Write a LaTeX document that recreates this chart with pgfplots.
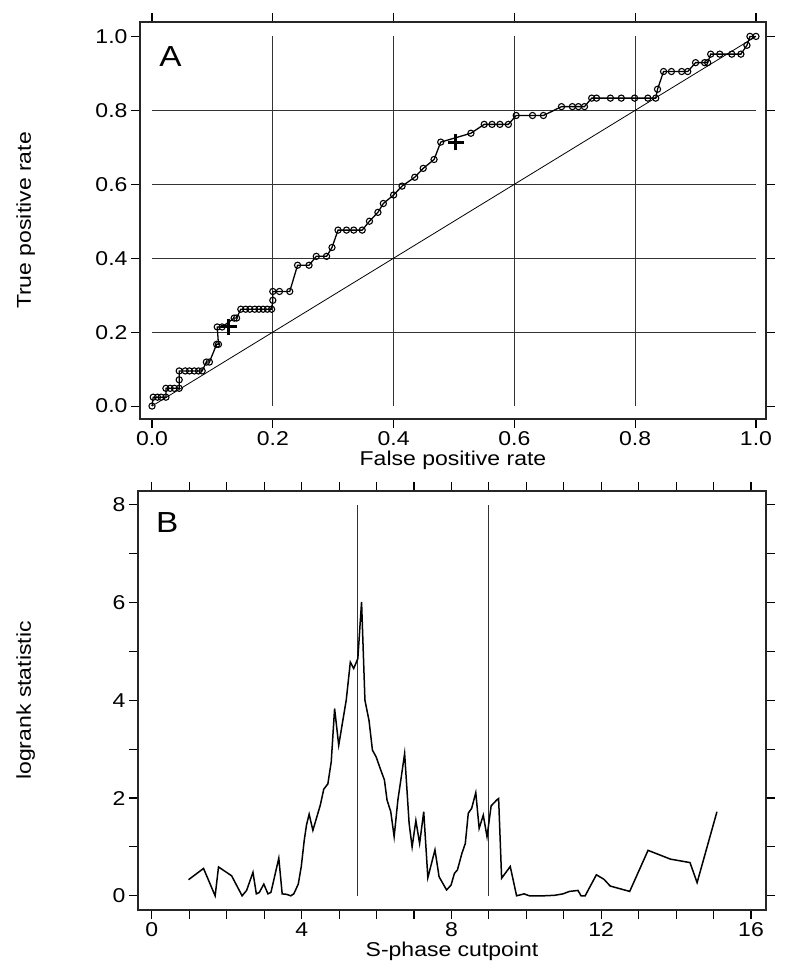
\documentclass[border=0pt]{standalone}
\usepackage{fontspec}
\setmainfont{Liberation Sans}[FakeStretch=1.15]
\usepackage{pgfplots}
\pgfplotsset{compat=1.18}
\pgfplotsset{
  panel/.style={
    scale only axis,
    axis line style={line width=1.2pt, black!85},
    tick align=outside,
    major tick length=9pt,
    tick style={line width=1.1pt, black},
    /pgf/number format/assume math mode=true,
    tick label style={font=\fontsize{20}{24}\selectfont},
    label style={font=\fontsize{20}{24}\selectfont},
    clip=false,
  },
  gridline/.style={line width=0.9pt, black!80, forget plot},
}
\begin{document}
\begin{tikzpicture}
\useasboundingbox (0,0) rectangle (793pt,966pt);
% ---------------- Panel A ----------------
\begin{axis}[panel,
  at={(140pt,547pt)}, anchor=south west,
  width=626pt, height=397pt,
  xmin=-0.0199, xmax=1.0166, ymin=-0.035, ymax=1.039,
  xtick={0,0.2,0.4,0.6,0.8,1.0}, xticklabels={0.0,0.2,0.4,0.6,0.8,1.0},
  ytick={0,0.2,0.4,0.6,0.8,1.0}, yticklabels={0.0,0.2,0.4,0.6,0.8,1.0},
  xlabel={False positive rate}, ylabel={True positive rate},
  xlabel style={at={(axis description cs:0.5,-0.103)}, anchor=center},
  ylabel style={at={(axis description cs:-0.1826,0.5)}, anchor=center, rotate=0},
]
\addplot[gridline] coordinates {(0,0.2) (1,0.2)};
\addplot[gridline] coordinates {(0,0.4) (1,0.4)};
\addplot[gridline] coordinates {(0,0.6) (1,0.6)};
\addplot[gridline] coordinates {(0,0.8) (1,0.8)};
\addplot[gridline] coordinates {(0.2,0) (0.2,1)};
\addplot[gridline] coordinates {(0.4,0) (0.4,1)};
\addplot[gridline] coordinates {(0.6,0) (0.6,1)};
\addplot[gridline] coordinates {(0.8,0) (0.8,1)};
\addplot[line width=0.8pt, black, forget plot] coordinates {(0,0) (1,1)};
\addplot[line width=1.3pt, black, mark=o, mark size=3.1pt,
  mark options={line width=1.1pt, fill=white}] coordinates {
(0.0,0.0) (0.002,0.024) (0.009,0.024) (0.015,0.024) (0.023,0.024)
(0.023,0.048) (0.030,0.048) (0.037,0.048) (0.045,0.048)
(0.045,0.071) (0.045,0.095) (0.055,0.095) (0.062,0.095) (0.070,0.095)
(0.077,0.095) (0.083,0.095) (0.090,0.119) (0.095,0.119)
(0.107,0.167) (0.110,0.167) (0.108,0.214) (0.116,0.214)
(0.136,0.238) (0.140,0.238)
(0.147,0.262) (0.155,0.262) (0.162,0.262) (0.170,0.262) (0.177,0.262)
(0.184,0.262) (0.191,0.262) (0.198,0.262)
(0.200,0.286) (0.200,0.310) (0.211,0.310) (0.228,0.310)
(0.241,0.381) (0.260,0.381) (0.272,0.405) (0.289,0.405) (0.298,0.429)
(0.308,0.476) (0.322,0.476) (0.334,0.476) (0.348,0.476)
(0.360,0.500) (0.374,0.524) (0.383,0.548) (0.400,0.571) (0.414,0.595)
(0.435,0.619) (0.449,0.643) (0.467,0.667) (0.478,0.714) (0.528,0.738)
(0.550,0.762) (0.563,0.762) (0.576,0.762) (0.590,0.762)
(0.603,0.786) (0.630,0.786) (0.648,0.786)
(0.678,0.810) (0.696,0.810) (0.706,0.810) (0.716,0.810)
(0.728,0.833) (0.736,0.833) (0.759,0.833) (0.777,0.833) (0.799,0.833)
(0.821,0.833) (0.834,0.833) (0.837,0.857)
(0.847,0.905) (0.860,0.905) (0.877,0.905) (0.887,0.905)
(0.900,0.929) (0.915,0.929) (0.920,0.929)
(0.925,0.952) (0.940,0.952) (0.960,0.952) (0.975,0.952)
(0.985,0.976) (0.990,1.000) (1.000,1.000)
};
\addplot[only marks, mark=+, mark size=8pt, mark options={line width=3pt, black}]
  coordinates {(0.127,0.214) (0.503,0.714)};
\node[anchor=north west, inner sep=0pt, font=\fontsize{29}{30}\selectfont]
  at (axis cs:0.012,0.972) {A};
\end{axis}
% ---------------- Panel B ----------------
\begin{axis}[panel,
  at={(138pt,56pt)}, anchor=south west,
  width=628pt, height=419pt,
  xmin=-0.37, xmax=16.4, ymin=-0.29, ymax=8.28,
  xtick={0,1,...,16}, xticklabels={0,,,,4,,,,8,,,,12,,,,16},
  ytick={0,1,...,8}, yticklabels={0,,2,,4,,6,,8},
  xlabel={S-phase cutpoint}, ylabel={logrank statistic},
  xlabel style={at={(axis description cs:0.5,-0.098)}, anchor=center},
  ylabel style={at={(axis description cs:-0.179,0.5)}, anchor=center, rotate=0},
]
\addplot[gridline] coordinates {(5.5,0) (5.5,8)};
\addplot[gridline] coordinates {(9.0,0) (9.0,8)};
\addplot[line width=1.5pt, black] coordinates {
(0.98,0.33) (1.38,0.56) (1.69,0.00) (1.78,0.59) (2.13,0.41) (2.41,0.00)
(2.53,0.11) (2.70,0.48) (2.79,0.04) (2.87,0.07) (2.99,0.24) (3.10,0.04)
(3.18,0.07) (3.39,0.77) (3.48,0.04) (3.60,0.03) (3.71,0.00) (3.79,0.04)
(3.91,0.24) (3.99,0.60) (4.07,1.14) (4.13,1.45) (4.20,1.67) (4.30,1.34)
(4.50,1.86) (4.59,2.18) (4.70,2.29) (4.79,2.74) (4.88,3.83) (4.99,3.08)
(5.19,4.00) (5.30,4.78) (5.39,4.65) (5.50,4.85) (5.60,6.01) (5.69,4.00)
(5.80,3.58) (5.89,2.98) (5.99,2.84) (6.10,2.60) (6.21,2.37) (6.28,1.96)
(6.38,1.72) (6.47,1.21) (6.57,1.96) (6.66,2.43) (6.75,2.91) (6.87,1.48)
(6.95,1.00) (7.05,1.54) (7.15,1.07) (7.26,1.72) (7.37,0.37) (7.56,0.94)
(7.67,0.39) (7.87,0.12) (7.99,0.22) (8.08,0.46) (8.16,0.53) (8.28,0.87)
(8.37,1.07) (8.45,1.69) (8.54,1.79) (8.65,2.11) (8.74,1.38) (8.85,1.65)
(8.95,1.21) (9.06,1.84) (9.21,1.96) (9.26,1.99) (9.34,0.36) (9.57,0.60)
(9.74,0.00) (9.94,0.04) (10.08,0.00) (10.46,0.00) (10.75,0.01) (10.98,0.04)
(11.15,0.09) (11.38,0.11) (11.46,0.00) (11.57,0.00) (11.87,0.43) (12.07,0.34)
(12.24,0.20) (12.76,0.09) (13.25,0.93) (13.85,0.75) (14.37,0.68) (14.56,0.27)
(15.09,1.72)
};
\node[anchor=north west, inner sep=0pt, font=\fontsize{29}{30}\selectfont]
  at (axis cs:0.107,7.85) {B};
\end{axis}
\end{tikzpicture}
\end{document}
